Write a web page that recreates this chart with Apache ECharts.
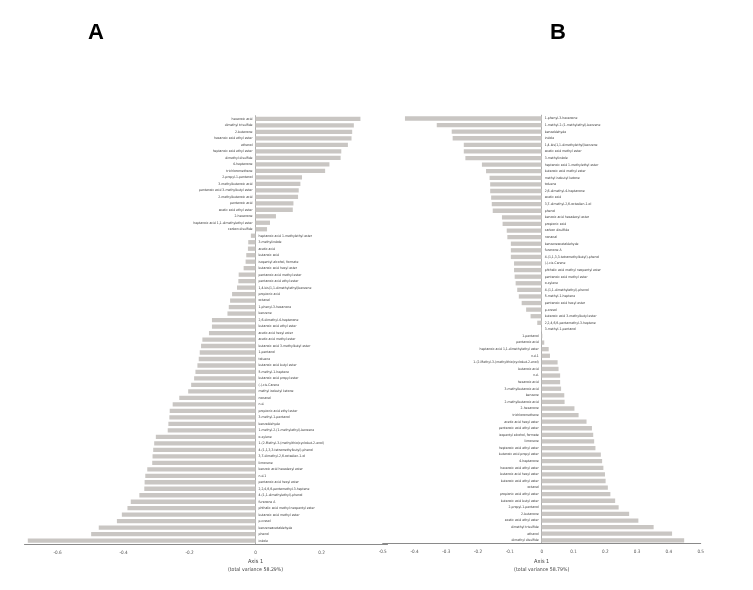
<!DOCTYPE html>
<html><head><meta charset="utf-8">
<script src="https://cdn.jsdelivr.net/npm/echarts@6/dist/echarts.min.js"></script>
<style>html,body{margin:0;padding:0;background:#fff}#c{width:753px;height:590px}</style>
</head><body><div id="c"></div>
<script>
const catsA = ["hexanoic acid","dimethyl trisulfide","2-butanone","hexanoic acid ethyl ester","ethanol","heptanoic acid ethyl ester","dimethyl disulfide","4-heptanone","trichloromethane","2-propyl-1-pentanol","3-methylbutanoic acid","pentanoic acid 3-methylbutyl ester","2-methylbutanoic acid","pentanoic acid","acetic acid ethyl ester","2-hexanone","heptanoic acid 1,1-dimethylethyl ester","carbon disulfide","heptanoic acid 1-methylethyl ester","3-methylindole","acetic acid","butanoic acid","isopentyl alcohol, formate","butanoic acid hexyl ester","pentanoic acid methyl ester","pentanoic acid ethyl ester","1,4-bis(1,1-dimethylethyl)benzene","propionic acid","octanal","1-phenyl-3-hexanone","benzene","2,6-dimethyl-4-heptanone","butanoic acid ethyl ester","acetic acid hexyl ester","acetic acid methyl ester","butanoic acid 3-methylbutyl ester","1-pentanol","toluene","butanoic acid butyl ester","5-methyl-1-heptene","butanoic acid propyl ester","(-)-cis-Carene","methyl isobutyl ketone","nonanal","n.d.","propionic acid ethyl ester","3-methyl-1-pentanol","benzaldehyde","1-methyl-2-(1-methylethyl)-benzene","o-xylene","1-(2-Methyl-3-(methylthio)cyclobut-2-enol)","4-(1,1,3,3-tetramethylbutyl)-phenol","3,7-dimethyl-2,6-octadien-1-ol","limonene","benzoic acid hexadecyl ester","n.d.1","pentanoic acid hexyl ester","2,2,4,6,6-pentamethyl-3-heptene","4-(1,1-dimethylethyl)-phenol","furanone A","phthalic acid methyl neopentyl ester","butanoic acid methyl ester","p-cresol","benzeneacetaldehyde","phenol","indole"];
const valsA = [0.318,0.298,0.293,0.291,0.280,0.260,0.258,0.224,0.211,0.141,0.136,0.131,0.129,0.115,0.113,0.062,0.044,0.035,-0.014,-0.022,-0.023,-0.028,-0.030,-0.036,-0.051,-0.052,-0.056,-0.071,-0.077,-0.081,-0.085,-0.132,-0.132,-0.141,-0.161,-0.165,-0.169,-0.172,-0.176,-0.182,-0.186,-0.195,-0.204,-0.231,-0.251,-0.260,-0.261,-0.264,-0.266,-0.302,-0.307,-0.310,-0.312,-0.313,-0.328,-0.334,-0.336,-0.337,-0.352,-0.378,-0.388,-0.405,-0.420,-0.475,-0.498,-0.690];
const catsB = ["1-phenyl-3-hexanone","1-methyl-2-(1-methylethyl)-benzene","benzaldehyde","indole","1,4-bis(1,1-dimethylethyl)benzene","acetic acid methyl ester","3-methylindole","heptanoic acid 1-methylethyl ester","butanoic acid methyl ester","methyl isobutyl ketone","toluene","2,6-dimethyl-4-heptanone","acetic acid","3,7-dimethyl-2,6-octadien-1-ol","phenol","benzoic acid hexadecyl ester","propionic acid","carbon disulfide","nonanal","benzeneacetaldehyde","furanone A","4-(1,1,3,3-tetramethylbutyl)-phenol","(-)-cis-Carene","phthalic acid methyl neopentyl ester","pentanoic acid methyl ester","o-xylene","4-(1,1-dimethylethyl)-phenol","5-methyl-1-heptene","pentanoic acid hexyl ester","p-cresol","butanoic acid 3-methylbutyl ester","2,2,4,6,6-pentamethyl-3-heptene","3-methyl-1-pentanol","1-pentanol","pentanoic acid","heptanoic acid 1,1-dimethylethyl ester","n.d.1","1-(2-Methyl-3-(methylthio)cyclobut-2-enol)","butanoic acid","n.d.","hexanoic acid","3-methylbutanoic acid","benzene","2-methylbutanoic acid","2-hexanone","trichloromethane","acetic acid hexyl ester","pentanoic acid ethyl ester","isopentyl alcohol, formate","limonene","heptanoic acid ethyl ester","butanoic acid propyl ester","4-heptanone","hexanoic acid ethyl ester","butanoic acid hexyl ester","butanoic acid ethyl ester","octanal","propionic acid ethyl ester","butanoic acid butyl ester","2-propyl-1-pentanol","2-butanone","acetic acid ethyl ester","dimethyl trisulfide","ethanol","dimethyl disulfide"];
const valsB = [-0.430,-0.330,-0.283,-0.280,-0.245,-0.245,-0.240,-0.188,-0.175,-0.164,-0.162,-0.162,-0.159,-0.157,-0.154,-0.125,-0.123,-0.110,-0.108,-0.097,-0.097,-0.097,-0.087,-0.087,-0.085,-0.082,-0.077,-0.072,-0.063,-0.049,-0.035,-0.014,-0.002,0.002,0.008,0.022,0.026,0.050,0.053,0.058,0.058,0.061,0.071,0.072,0.103,0.116,0.141,0.158,0.162,0.165,0.169,0.186,0.190,0.194,0.199,0.201,0.208,0.216,0.231,0.242,0.275,0.304,0.352,0.410,0.448];
const ticksA = ["-0.6","-0.4","-0.2","0","0.2"];
const ticksB = ["-0.5","-0.4","-0.3","-0.2","-0.1","0","0.1","0.2","0.3","0.4","0.5"];
const varA = "(total variance 58.29%)";
const varB = "(total variance 58.79%)";

const FONT = "'Liberation Sans Narrow','DejaVu Sans Condensed','Liberation Sans',sans-serif";
const BAR = '#c9c6c3';
const chart = echarts.init(document.getElementById('c'), null, {renderer:'canvas'});

function fmt(v){ return String(Number(v.toFixed(1))); }
function mkData(vals){
  return vals.map(v => ({ value: v, label: { position: v >= 0 ? 'left' : 'right' } }));
}
function xAxis(idx, min, max, ticks){
  return {
    type:'value', gridIndex: idx, min: min, max: max, interval: 0.1,
    splitLine:{show:false}, axisTick:{show:false},
    axisLine:{show:true, onZero:false, lineStyle:{color:'#8a8a8a', width:1}},
    axisLabel:{fontSize:4.6, color:'#555', fontFamily:FONT, margin:6,
      formatter: v => { const s = fmt(v); return ticks.includes(s) ? s : ''; },
      showMinLabel:true, showMaxLabel:true}
  };
}
function yAxis(idx, cats){
  return {
    type:'category', gridIndex: idx, data: cats, inverse: true,
    axisTick:{show:false}, axisLabel:{show:false},
    axisLine:{show:true, onZero:true, lineStyle:{color:'#9a9a9a', width:0.8}}
  };
}
function series(idx, vals){
  return {
    type:'bar', xAxisIndex: idx, yAxisIndex: idx, data: mkData(vals),
    barWidth: 4.3, itemStyle:{color: BAR}, silent:true, animation:false,
    label:{show:true, formatter:'{b}', fontSize:3.4, color:'#333', fontFamily:FONT, distance:3}
  };
}
chart.setOption({
  animation:false,
  grid:[
    {left:24.5, top:115.7, width:363, height:428.2},
    {left:382.7, top:115.2, width:318, height:428.4}
  ],
  xAxis:[ xAxis(0, -0.7, 0.4, ticksA), xAxis(1, -0.5, 0.5, ticksB) ],
  yAxis:[ yAxis(0, catsA), yAxis(1, catsB) ],
  series:[ series(0, valsA), series(1, valsB) ]
});
const zA = chart.convertToPixel({xAxisIndex:0}, 0);
const zB = chart.convertToPixel({xAxisIndex:1}, 0);
function txt(x, y, t, size){
  return {type:'text', x:x, y:y, silent:true,
    style:{text:t, fontSize:size, fill:'#444', fontFamily:FONT, align:'center', verticalAlign:'middle'}};
}
chart.setOption({
  graphic:[
    {type:'text', x:96, y:33, style:{text:'A', fontSize:22, fontWeight:'bold', fill:'#000', fontFamily:"'Liberation Sans',Arial,sans-serif", align:'center', verticalAlign:'middle'}},
    {type:'text', x:558, y:33, style:{text:'B', fontSize:22, fontWeight:'bold', fill:'#000', fontFamily:"'Liberation Sans',Arial,sans-serif", align:'center', verticalAlign:'middle'}},
    txt(zA, 562, 'Axis 1', 5.6),
    txt(zA, 570, varA, 5.2),
    txt(zB, 562, 'Axis 1', 5.6),
    txt(zB, 570, varB, 5.2)
  ]
});
</script></body></html>
